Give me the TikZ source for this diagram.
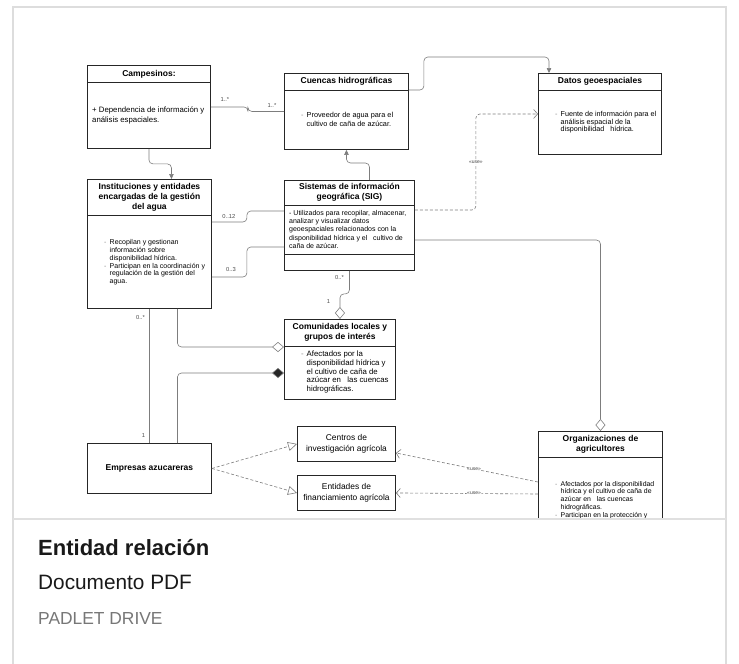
\documentclass[tikz,border=0pt]{standalone}
\usepackage{fontspec}
\setmainfont{Liberation Sans}
\usetikzlibrary{arrows.meta,calc,positioning}

\definecolor{cardgray}{HTML}{DDDDDD}
\definecolor{linkgray}{HTML}{7D7D7D}
\definecolor{drivegray}{HTML}{777777}

% dash in front of an attribute line, and the indent of the lines after it
\newcommand{\itemdash}{\makebox[5.5pt][l]{\textcolor{black!45}{-}}}
\newcommand{\itemgap}{\hspace*{5.5pt}}

\tikzset{
  classbox/.style={draw=black!85, line width=0.9pt, fill=white, anchor=north west, inner sep=0pt},
  boxline/.style={draw=black!85, line width=0.9pt},
  boxtitle/.style={font=\bfseries\fontsize{8.5}{10}\selectfont, align=center, inner sep=0pt},
  plaintitle/.style={font=\fontsize{8.4}{10.5}\selectfont, align=center, inner sep=0pt},
  boxtext/.style={font=\fontsize{7}{7.7}\selectfont, align=left, anchor=north west, inner sep=0pt},
  conn/.style={draw=linkgray, line width=0.6pt, rounded corners=4pt},
  usedash/.style={conn, dash pattern=on 3pt off 2pt},
  mult/.style={font=\fontsize{5.8}{6}\selectfont, text=black!70, inner sep=0.5pt},
  stereo/.style={font=\fontsize{5}{5.5}\selectfont, text=black!75, fill=white, inner sep=0.6pt},
}

\begin{document}
\begin{tikzpicture}[x=1pt,y=-1pt]

        \useasboundingbox (0,0) rectangle (739,664);
        \fill[white] (0,0) rectangle (739,664);

        % Card frame and separator
        \draw[cardgray, line width=1.2pt] (13,670) -- (13,7) -- (726,7) -- (726,670);

        \begin{scope}
        \clip (14,8) rectangle (725,518);

        % Draw the class boxes
        \node[classbox, minimum width=123pt, minimum height=83pt] (camp) at (87,65) {};
        \node[classbox, minimum width=124pt, minimum height=76pt] (cuen) at (284,73) {};
        \node[classbox, minimum width=123pt, minimum height=81pt] (datos) at (538,73) {};
        \node[classbox, minimum width=124pt, minimum height=129pt] (inst) at (87,179) {};
        \node[classbox, minimum width=130pt, minimum height=90pt] (sig) at (284,180) {};
        \node[classbox, minimum width=111pt, minimum height=80pt] (comu) at (284,319) {};
        \node[classbox, minimum width=124pt, minimum height=50pt] (emp) at (87,443) {};
        \node[classbox, minimum width=98pt, minimum height=35pt] (cent) at (297,426) {};
        \node[classbox, minimum width=98pt, minimum height=35pt] (fin) at (297,475) {};
        \node[classbox, minimum width=124pt, minimum height=95pt] (org) at (538,431) {};

        % Header separators
        \draw[boxline] (camp.north west) ++(0,17) -- ++(123,0);
        \draw[boxline] (cuen.north west) ++(0,17) -- ++(124,0);
        \draw[boxline] (datos.north west) ++(0,17) -- ++(123,0);
        \draw[boxline] (inst.north west) ++(0,36) -- ++(124,0);
        \draw[boxline] (sig.north west) ++(0,25) -- ++(130,0);
        \draw[boxline] (sig.north west) ++(0,74) -- ++(130,0);
        \draw[boxline] (comu.north west) ++(0,27) -- ++(111,0);
        \draw[boxline] (org.north west) ++(0,26) -- ++(124,0);

        % Titles
        \node[boxtitle] (camp-t) at ($(camp.north)+(0,9)$) {Campesinos:};
        \node[boxtitle] (cuen-t) at ($(cuen.north)+(0,8.5)$) {Cuencas hidrográficas};
        \node[boxtitle] (datos-t) at ($(datos.north)+(0,8.5)$) {Datos geoespaciales};
        \node[boxtitle] (inst-t) at ($(inst.north)+(0,18)$) {Instituciones y entidades\\encargadas de la gestión\\del agua};
        \node[boxtitle] (sig-t) at ($(sig.north)+(0,12.5)$) {Sistemas de información\\geográfica (SIG)};
        \node[boxtitle] (comu-t) at ($(comu.north)+(0,13.5)$) {Comunidades locales y\\grupos de interés};
        \node[boxtitle] (org-t) at ($(org.north)+(0,13)$) {Organizaciones de\\agricultores};
        \node[boxtitle] (emp-t) at (emp) {Empresas azucareras};
        \node[plaintitle] (cent-t) at (cent) {Centros de\\investigación agrícola};
        \node[plaintitle] (fin-t) at (fin) {Entidades de\\financiamiento agrícola};

        % Attributes
        \node[boxtext, font=\fontsize{7.8}{10}\selectfont] (camp-b) at (92,107) {+ Dependencia de información y\\análisis espaciales.};
        \node[boxtext, font=\fontsize{7.3}{8.3}\selectfont] (cuen-b) at (301,112.5) {\itemdash Proveedor de agua para el\\\itemgap cultivo de caña de azúcar.};
        \node[boxtext, font=\fontsize{7.2}{7.5}\selectfont] (datos-b) at (555,111) {\itemdash Fuente de información para el\\\itemgap análisis espacial de la\\\itemgap disponibilidad\ \ \ hídrica.};
        \node[boxtext] (inst-b) at (104,239.7) {\itemdash Recopilan y gestionan\\\itemgap información sobre\\\itemgap disponibilidad hídrica.\\\itemdash Participan en la coordinación y\\\itemgap regulación de la gestión del\\\itemgap agua.};
        \node[boxtext, font=\fontsize{7}{8.3}\selectfont] (sig-b) at (289,210) {- Utilizados para recopilar, almacenar,\\analizar y visualizar datos\\geoespaciales relacionados con la\\disponibilidad hídrica y el\ \ \ cultivo de\\caña de azúcar.};
        \node[boxtext, font=\fontsize{7.8}{8.7}\selectfont] (comu-b) at (301,351) {\itemdash Afectados por la\\\itemgap disponibilidad hídrica y\\\itemgap el cultivo de caña de\\\itemgap azúcar en\ \ \ las cuencas\\\itemgap hidrográficas.};
        \node[boxtext, font=\fontsize{6.9}{7.7}\selectfont] (org-b) at (555,481) {\itemdash Afectados por la disponibilidad\\\itemgap hídrica y el cultivo de caña de\\\itemgap azúcar en\ \ \ las cuencas\\\itemgap hidrográficas.\\\itemdash Participan en la protección y};

        % Associations
        \draw[conn] (camp.east) -- ++(37,0) |- (cuen.west);
        \draw[conn, -{Triangle[length=5pt,width=4.5pt]}] (camp.south) -- ++(0,15) -| ($(inst.north)+(22,0)$);
        \draw[conn, -{Triangle[length=5pt,width=4.5pt]}] ($(cuen.north east)+(0,17)$) -- ++(15,0) -- ++(0,-33) -| ($(datos.north west)+(11,0)$);
        \draw[conn, -{Triangle[length=5pt,width=4.5pt]}] ($(sig.north)+(20,0)$) -- ++(0,-17) -| (cuen.south);
        \draw[usedash, -{Straight Barb[length=4pt,width=9pt]}] ($(sig.north east)+(0,30)$) -- ++(61,0) |- node[stereo, pos=0.25] (use-datos) {«use»} (datos.west);
        \draw[conn, -{Diamond[fill=white,length=12pt,width=10pt]}] ($(sig.north east)+(0,60)$) -| (org.north);
        \draw[conn] ($(inst.north east)+(0,43)$) -- ++(35,0) |- ($(sig.north west)+(0,31)$);
        \draw[conn] ($(inst.north east)+(0,98)$) -- ++(35,0) |- ($(sig.north west)+(0,67)$);
        \draw[conn, -{Diamond[fill=white,length=12pt,width=10pt]}] (sig.south) -- ++(0,23) -| (comu.north);
        \draw[conn, -{Diamond[fill=white,length=12pt,width=10pt]}] ($(inst.south)+(28,0)$) |- ($(comu.north west)+(0,28)$);
        \draw[conn, -{Diamond[fill=black!85,length=12pt,width=10pt]}] ($(emp.north)+(28,0)$) |- ($(comu.north west)+(0,54)$);
        \draw[conn] (inst.south) -- (emp.north);

        % Generalisations and usages
        \draw[usedash, -{Triangle[open,fill=white,length=9pt,width=9pt]}] (emp.east) -- (cent.west);
        \draw[usedash, -{Triangle[open,fill=white,length=9pt,width=9pt]}] (emp.east) -- (fin.west);
        \draw[usedash, -{Straight Barb[length=4pt,width=9pt]}] ($(org.north west)+(0,51)$) -- node[stereo, pos=0.45] (use-cent) {«use»} ([yshift=-9pt]cent.east);
        \draw[usedash, -{Straight Barb[length=4pt,width=9pt]}] ($(org.north west)+(0,63)$) -- node[stereo, pos=0.45] (use-fin) {«use»} (fin.east);

        % Multiplicities
        \node[mult] (m-camp) at ($(camp.east)+(14,-7)$) {1..*};
        \node[mult] (m-cuen) at ($(cuen.west)+(-12,-6)$) {1..*};
        \node[mult] (m-inst1) at ($(inst.north east)+(17,37)$) {0..12};
        \node[mult] (m-inst2) at ($(inst.north east)+(19,90)$) {0..3};
        \node[mult] (m-sig) at ($(sig.south)+(-10,7)$) {0..*};
        \node[mult] (m-comu) at ($(comu.north)+(-11.5,-17)$) {1};
        \node[mult] (m-inst3) at ($(inst.south)+(-9,9)$) {0..*};
        \node[mult] (m-emp) at ($(emp.north)+(-6,-8)$) {1};

        \end{scope}

        \draw[black!12, line width=2pt] (13,519) -- (726,519);

        % Card caption
        \node[anchor=base west, inner sep=0pt, font=\bfseries\fontsize{22}{25}\selectfont, text=black!90] (cap-title) at (38,555) {Entidad relación};
        \node[anchor=base west, inner sep=0pt, font=\fontsize{20.8}{24}\selectfont, text=black!90] (cap-kind) at (38,589) {Documento PDF};
        \node[anchor=base west, inner sep=0pt, font=\fontsize{17.4}{20}\selectfont, text=drivegray] (cap-source) at (38,624) {PADLET DRIVE};

\end{tikzpicture}
\end{document}
